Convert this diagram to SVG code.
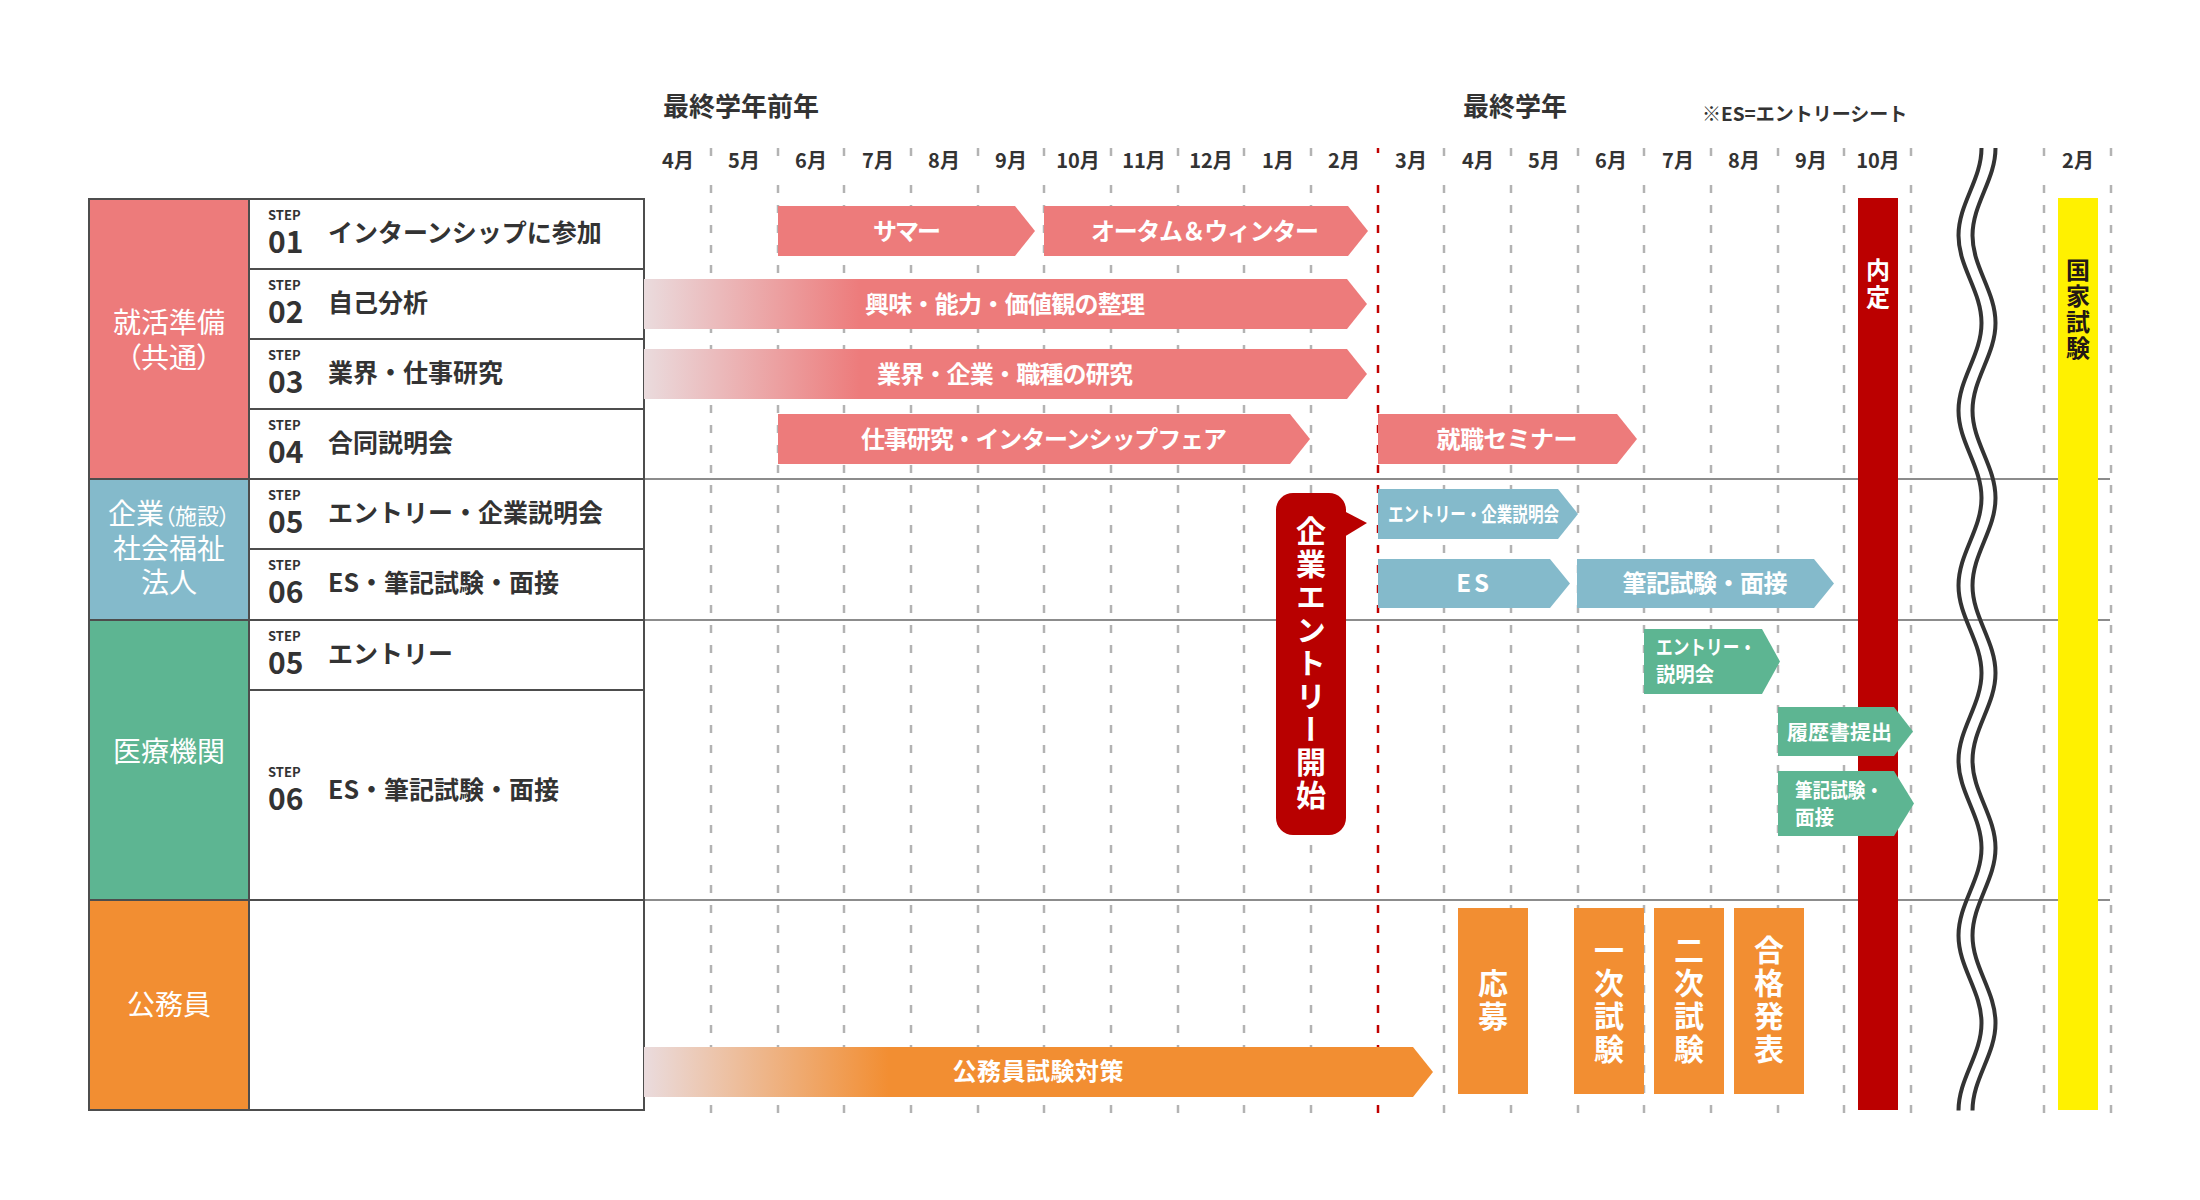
<svg xmlns="http://www.w3.org/2000/svg" width="2200" height="1200" viewBox="0 0 2200 1200">
<defs>
<style>
text{font-family:"Noto Sans CJK JP","Noto Sans",sans-serif}
.hd{font-size:26px;font-weight:700;fill:#333}
.note{font-size:19px;font-weight:700;fill:#333}
.mo{font-size:20px;font-weight:700;fill:#333;text-anchor:middle}
.step{font-size:13px;font-weight:700;fill:#333}
.num{font-size:30px;font-weight:700;fill:#333}
.name{font-size:25px;font-weight:700;fill:#333}
.cat{font-size:28px;fill:#fff;text-anchor:middle;font-feature-settings:"palt"}
.bt{font-size:24px;font-weight:700;fill:#fff;text-anchor:middle}
.st{font-size:20px;font-weight:700;fill:#fff}
.vt{writing-mode:vertical-rl;text-anchor:middle;font-weight:700;fill:#fff}
.grid{stroke:#b3b3b3;stroke-width:2.5;stroke-dasharray:8 12}
.tick{stroke:#b3b3b3;stroke-width:2.5}
.tl{stroke:#4d4d4d;stroke-width:2;fill:none}
.ext{stroke:#8c8c8c;stroke-width:2}
.pink{fill:#ED7B7B}
.blue{fill:#84BACB}
.green{fill:#5DB592}
.orange{fill:#F28E32}
.wave{fill:none;stroke:#333;stroke-width:4}
</style>
<linearGradient id="gp" x1="0" y1="0" x2="1" y2="0">
<stop offset="0" stop-color="#EADBDD"/><stop offset="0.3" stop-color="#ED7B7B"/><stop offset="1" stop-color="#ED7B7B"/>
</linearGradient>
<linearGradient id="go" x1="0" y1="0" x2="1" y2="0">
<stop offset="0" stop-color="#EADBDD"/><stop offset="0.31" stop-color="#F28E32"/><stop offset="1" stop-color="#F28E32"/>
</linearGradient>
<path id="wv" d="M1988.5 148 c0 31.9 -23 55.6 -23 87.5 c0 31.9 23 55.6 23 87.5 c0 31.9 -23 55.6 -23 87.5 c0 31.9 23 55.6 23 87.5 c0 31.9 -23 55.6 -23 87.5 c0 31.9 23 55.6 23 87.5 c0 31.9 -23 55.6 -23 87.5 c0 31.9 23 55.6 23 87.5 c0 31.9 -23 55.6 -23 87.5 c0 31.9 23 55.6 23 87.5 c0 31.9 -23 55.6 -23 87.5"/>
</defs>
<rect width="2200" height="1200" fill="#fff"/>

<g id="header">
<text class="hd" x="663" y="116">最終学年前年</text>
<text class="hd" x="1463" y="116">最終学年</text>
<text class="note" x="1702" y="121">※ES=エントリーシート</text>
<text class="mo" x="678" y="168">4月</text>
<text class="mo" x="744" y="168">5月</text>
<text class="mo" x="811" y="168">6月</text>
<text class="mo" x="878" y="168">7月</text>
<text class="mo" x="944" y="168">8月</text>
<text class="mo" x="1011" y="168">9月</text>
<text class="mo" x="1078" y="168">10月</text>
<text class="mo" x="1144" y="168">11月</text>
<text class="mo" x="1211" y="168">12月</text>
<text class="mo" x="1278" y="168">1月</text>
<text class="mo" x="1344" y="168">2月</text>
<text class="mo" x="1411" y="168">3月</text>
<text class="mo" x="1478" y="168">4月</text>
<text class="mo" x="1544" y="168">5月</text>
<text class="mo" x="1611" y="168">6月</text>
<text class="mo" x="1678" y="168">7月</text>
<text class="mo" x="1744" y="168">8月</text>
<text class="mo" x="1811" y="168">9月</text>
<text class="mo" x="1878" y="168">10月</text>
<text class="mo" x="2078" y="168">2月</text>
</g>

<g id="grid">
<g class="tick">
<line x1="711" y1="148" x2="711" y2="156"/><line x1="778" y1="148" x2="778" y2="156"/><line x1="844" y1="148" x2="844" y2="156"/><line x1="911" y1="148" x2="911" y2="156"/><line x1="978" y1="148" x2="978" y2="156"/><line x1="1044" y1="148" x2="1044" y2="156"/><line x1="1111" y1="148" x2="1111" y2="156"/><line x1="1178" y1="148" x2="1178" y2="156"/><line x1="1244" y1="148" x2="1244" y2="156"/><line x1="1311" y1="148" x2="1311" y2="156"/><line x1="1444" y1="148" x2="1444" y2="156"/><line x1="1511" y1="148" x2="1511" y2="156"/><line x1="1578" y1="148" x2="1578" y2="156"/><line x1="1644" y1="148" x2="1644" y2="156"/><line x1="1711" y1="148" x2="1711" y2="156"/><line x1="1778" y1="148" x2="1778" y2="156"/><line x1="1844" y1="148" x2="1844" y2="156"/><line x1="1911" y1="148" x2="1911" y2="156"/><line x1="2044" y1="148" x2="2044" y2="156"/><line x1="2111" y1="148" x2="2111" y2="156"/>
</g>
<g class="grid">
<line x1="711" y1="185" x2="711" y2="1113"/><line x1="778" y1="185" x2="778" y2="1113"/><line x1="844" y1="185" x2="844" y2="1113"/><line x1="911" y1="185" x2="911" y2="1113"/><line x1="978" y1="185" x2="978" y2="1113"/><line x1="1044" y1="185" x2="1044" y2="1113"/><line x1="1111" y1="185" x2="1111" y2="1113"/><line x1="1178" y1="185" x2="1178" y2="1113"/><line x1="1244" y1="185" x2="1244" y2="1113"/><line x1="1311" y1="185" x2="1311" y2="1113"/><line x1="1444" y1="185" x2="1444" y2="1113"/><line x1="1511" y1="185" x2="1511" y2="1113"/><line x1="1578" y1="185" x2="1578" y2="1113"/><line x1="1644" y1="185" x2="1644" y2="1113"/><line x1="1711" y1="185" x2="1711" y2="1113"/><line x1="1778" y1="185" x2="1778" y2="1113"/><line x1="1844" y1="185" x2="1844" y2="1113"/><line x1="1911" y1="185" x2="1911" y2="1113"/><line x1="2044" y1="185" x2="2044" y2="1113"/><line x1="2111" y1="185" x2="2111" y2="1113"/>
</g>
<line x1="1378" y1="148" x2="1378" y2="153" stroke="#C00000" stroke-width="2.5"/>
<line x1="1378" y1="185" x2="1378" y2="1113" stroke="#C00000" stroke-width="2.5" stroke-dasharray="8 12"/>
<line class="ext" x1="644" y1="479" x2="2110" y2="479"/>
<line class="ext" x1="644" y1="620" x2="2110" y2="620"/>
<line class="ext" x1="644" y1="900" x2="2110" y2="900"/>
</g>

<g id="wave">
<use href="#wv" class="wave" transform="translate(-7 0)"/>
<use href="#wv" class="wave" transform="translate(7 0)"/>
</g>

<g id="table">
<rect class="pink" x="89" y="199" width="160" height="280"/>
<rect class="blue" x="89" y="479" width="160" height="141"/>
<rect class="green" x="89" y="620" width="160" height="280"/>
<rect class="orange" x="89" y="900" width="160" height="210"/>
<rect class="tl" x="89" y="199" width="555" height="911"/>
<line class="tl" x1="249" y1="199" x2="249" y2="1110"/>
<line class="tl" x1="249" y1="269" x2="644" y2="269"/>
<line class="tl" x1="249" y1="339" x2="644" y2="339"/>
<line class="tl" x1="249" y1="409" x2="644" y2="409"/>
<line class="tl" x1="89" y1="479" x2="644" y2="479"/>
<line class="tl" x1="249" y1="549" x2="644" y2="549"/>
<line class="tl" x1="89" y1="620" x2="644" y2="620"/>
<line class="tl" x1="249" y1="690" x2="644" y2="690"/>
<line class="tl" x1="89" y1="900" x2="644" y2="900"/>
</g>

<g id="cat-prep">
<text class="cat" x="169" y="333">就活準備</text>
<text class="cat" x="169" y="368">（共通）</text>
</g>
<g id="cat-company">
<text class="cat" x="169" y="524">企業<tspan font-size="22">（施設）</tspan></text>
<text class="cat" x="169" y="559">社会福祉</text>
<text class="cat" x="169" y="593">法人</text>
</g>
<g id="cat-medical"><text class="cat" x="169" y="762">医療機関</text></g>
<g id="cat-public"><text class="cat" x="169" y="1015">公務員</text></g>

<g id="step01"><text class="step" x="268" y="220">STEP</text><text class="num" x="268" y="253">01</text><text class="name" x="328" y="242">インターンシップに参加</text></g>
<g id="step02"><text class="step" x="268" y="290">STEP</text><text class="num" x="268" y="323">02</text><text class="name" x="328" y="312">自己分析</text></g>
<g id="step03"><text class="step" x="268" y="360">STEP</text><text class="num" x="268" y="393">03</text><text class="name" x="328" y="382">業界・仕事研究</text></g>
<g id="step04"><text class="step" x="268" y="430">STEP</text><text class="num" x="268" y="463">04</text><text class="name" x="328" y="452">合同説明会</text></g>
<g id="step05a"><text class="step" x="268" y="500">STEP</text><text class="num" x="268" y="533">05</text><text class="name" x="328" y="522">エントリー・企業説明会</text></g>
<g id="step06a"><text class="step" x="268" y="570">STEP</text><text class="num" x="268" y="603">06</text><text class="name" x="328" y="592">ES・筆記試験・面接</text></g>
<g id="step05b"><text class="step" x="268" y="641">STEP</text><text class="num" x="268" y="674">05</text><text class="name" x="328" y="663">エントリー</text></g>
<g id="step06b"><text class="step" x="268" y="777">STEP</text><text class="num" x="268" y="810">06</text><text class="name" x="328" y="799">ES・筆記試験・面接</text></g>

<g id="bar-summer"><polygon class="pink" points="778,206 1015,206 1035,231 1015,256 778,256"/><text class="bt" x="907" y="240" textLength="68" lengthAdjust="spacing">サマー</text></g>
<g id="bar-autumn"><polygon class="pink" points="1044,206 1348,206 1368,231 1348,256 1044,256"/><text class="bt" x="1205" y="240" textLength="228" lengthAdjust="spacing">オータム＆ウィンター</text></g>
<g id="bar-self"><polygon fill="url(#gp)" points="644,279 1347,279 1367,304 1347,329 644,329"/><text class="bt" x="1005" y="313" textLength="280" lengthAdjust="spacing">興味・能力・価値観の整理</text></g>
<g id="bar-industry"><polygon fill="url(#gp)" points="644,349 1347,349 1367,374 1347,399 644,399"/><text class="bt" x="1005" y="383" textLength="256" lengthAdjust="spacing">業界・企業・職種の研究</text></g>
<g id="bar-fair"><polygon class="pink" points="778,414 1290,414 1310,439 1290,464 778,464"/><text class="bt" x="1044" y="448" textLength="366" lengthAdjust="spacing">仕事研究・インターンシップフェア</text></g>
<g id="bar-seminar"><polygon class="pink" points="1378,414 1617,414 1637,439 1617,464 1378,464"/><text class="bt" x="1507" y="448" textLength="141" lengthAdjust="spacing">就職セミナー</text></g>

<g id="bar-c-entry"><polygon class="blue" points="1378,489 1558,489 1578,514 1558,539 1378,539"/><text class="st" x="1388" y="522" textLength="171" lengthAdjust="spacingAndGlyphs">エントリー・企業説明会</text></g>
<g id="bar-c-es"><polygon class="blue" points="1378,559 1550,559 1570,583.5 1550,608 1378,608"/><text class="bt" x="1474" y="592" letter-spacing="3">ES</text></g>
<g id="bar-c-exam"><polygon class="blue" points="1577,559 1814,559 1834,583.5 1814,608 1577,608"/><text class="bt" x="1705" y="592" textLength="165" lengthAdjust="spacing">筆記試験・面接</text></g>

<g id="callout-entry">
<rect x="1276" y="493" width="70" height="342" rx="17" fill="#B80000"/>
<polygon points="1344,511 1367,523 1344,537" fill="#B80000"/>
<text class="vt" x="1311" y="664" style="font-size:30px;letter-spacing:3px">企業エントリー開始</text>
</g>

<g id="bar-naitei"><rect x="1858" y="198" width="40" height="912" fill="#BB0000"/><text class="vt" x="1878" y="285" style="font-size:24px;letter-spacing:3px">内定</text></g>
<g id="bar-national"><rect x="2058" y="198" width="40" height="912" fill="#FFF100"/><text class="vt" x="2078" y="310" style="font-size:24px;letter-spacing:2px;fill:#231815">国家試験</text></g>

<g id="bar-m-entry"><polygon class="green" points="1644,629 1762,629 1780,661.5 1762,694 1644,694"/><text class="st" x="1656" y="655" textLength="100" lengthAdjust="spacingAndGlyphs">エントリー・</text><text class="st" x="1656" y="682" textLength="58" lengthAdjust="spacingAndGlyphs">説明会</text></g>
<g id="bar-m-resume"><polygon class="green" points="1778,707 1894,707 1913,731.5 1894,756 1778,756"/><text class="st" x="1787" y="740" textLength="105" lengthAdjust="spacingAndGlyphs">履歴書提出</text></g>
<g id="bar-m-exam"><polygon class="green" points="1778,771 1894,771 1914,803.5 1894,836 1778,836"/><text class="st" x="1795" y="798" textLength="88" lengthAdjust="spacingAndGlyphs">筆記試験・</text><text class="st" x="1795" y="825" textLength="39" lengthAdjust="spacingAndGlyphs">面接</text></g>

<g id="bar-public"><polygon fill="url(#go)" points="644,1047 1413,1047 1433,1072 1413,1097 644,1097"/><text class="bt" x="1038" y="1080" textLength="171" lengthAdjust="spacing">公務員試験対策</text></g>
<g id="box-apply"><rect class="orange" x="1458" y="908" width="70" height="186"/><text class="vt" x="1493" y="1001" style="font-size:30px;letter-spacing:3px">応募</text></g>
<g id="box-first"><rect class="orange" x="1574" y="908" width="70" height="186"/><text class="vt" x="1609" y="1001" style="font-size:30px;letter-spacing:3px">一次試験</text></g>
<g id="box-second"><rect class="orange" x="1654" y="908" width="70" height="186"/><text class="vt" x="1689" y="1001" style="font-size:30px;letter-spacing:3px">二次試験</text></g>
<g id="box-result"><rect class="orange" x="1734" y="908" width="70" height="186"/><text class="vt" x="1769" y="1001" style="font-size:30px;letter-spacing:3px">合格発表</text></g>
</svg>
